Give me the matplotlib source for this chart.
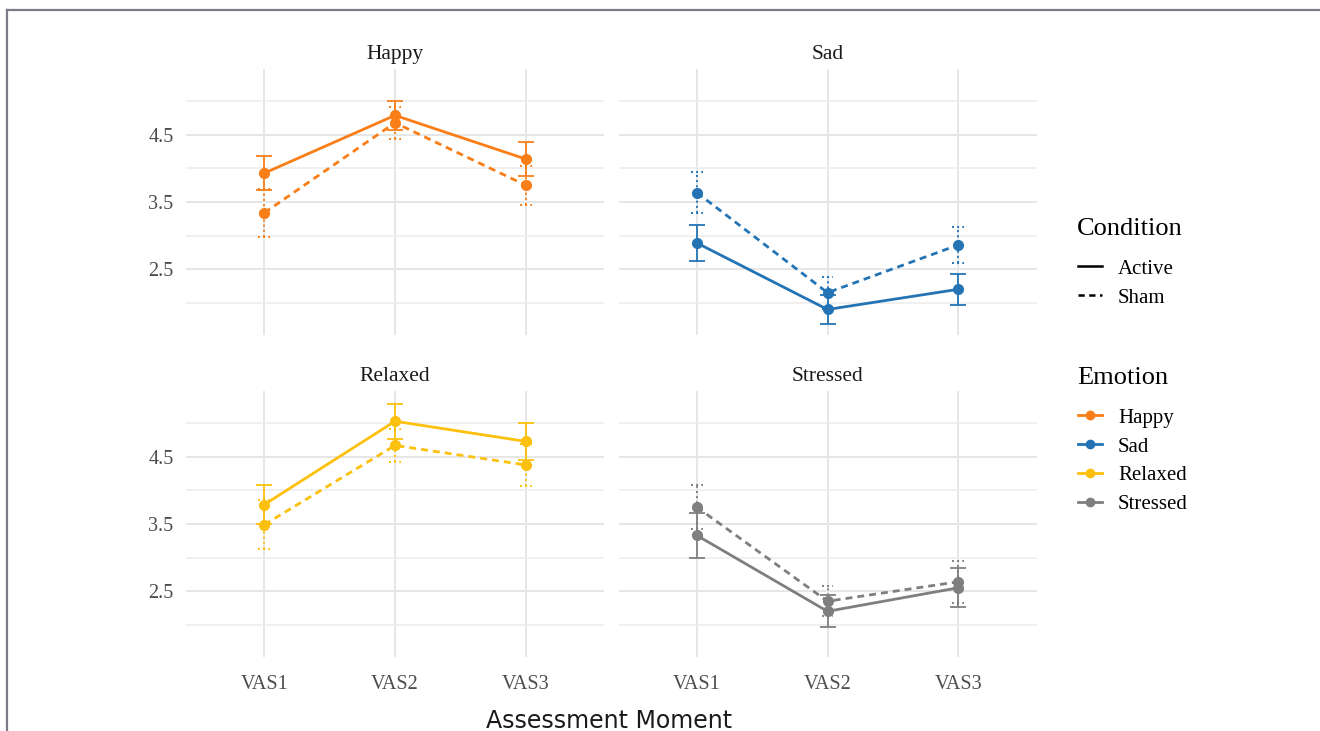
import matplotlib
matplotlib.use('Agg')
from matplotlib import pyplot as plt
from matplotlib.lines import Line2D
import numpy as np

plt.rcParams['font.family'] = ['Liberation Serif', 'DejaVu Serif']

moments = ['VAS1', 'VAS2', 'VAS3']
emotions = ['Happy', 'Sad', 'Relaxed', 'Stressed']
colors = ['#F97E17', '#2474B5', '#FCC00D', '#7F7F7F']

# means and error
happy_active = [3.93, 4.79, 4.14]
happy_active_err = [0.25, 0.22, 0.25]
happy_sham = [3.34, 4.68, 3.75]
happy_sham_err = [0.36, 0.24, 0.29]

sad_active = [2.89, 1.90, 2.20]
sad_active_err = [0.27, 0.21, 0.23]
sad_sham = [3.64, 2.15, 2.86]
sad_sham_err = [0.31, 0.24, 0.27]

relaxed_active = [3.79, 5.03, 4.73]
relaxed_active_err = [0.29, 0.26, 0.28]
relaxed_sham = [3.49, 4.67, 4.38]
relaxed_sham_err = [0.36, 0.24, 0.31]

stressed_active = [3.33, 2.20, 2.55]
stressed_active_err = [0.33, 0.24, 0.29]
stressed_sham = [3.75, 2.35, 2.64]
stressed_sham_err = [0.33, 0.22, 0.31]

active = [happy_active, sad_active, relaxed_active, stressed_active]
active_err = [happy_active_err, sad_active_err, relaxed_active_err, stressed_active_err]
sham = [happy_sham, sad_sham, relaxed_sham, stressed_sham]
sham_err = [happy_sham_err, sad_sham_err, relaxed_sham_err, stressed_sham_err]

fig = plt.figure(figsize=(13.2, 7.31), dpi=100)

# frame around the picture (top and left edges visible)
fig.add_artist(Line2D([7 / 1320, 1], [1 - 10 / 731, 1 - 10 / 731], color='#7a7a88', lw=1.6))
fig.add_artist(Line2D([7 / 1320, 7 / 1320], [0, 1 - 10 / 731], color='#7a7a88', lw=1.6))

lefts = [186 / 1320, 618.5 / 1320]
bottoms = [1 - 335 / 731, 1 - 657 / 731]
w = 418 / 1320
h = 266 / 731

x = np.arange(1, len(moments) + 1)
cap = 0.045

for i, emo in enumerate(emotions):
    r, c = divmod(i, 2)
    ax = fig.add_axes([lefts[c], bottoms[r], w, h])
    col = colors[i]

    # active: solid line, solid error bars
    ax.errorbar(x, active[i], yerr=active_err[i], fmt='-o', color=col, lw=2,
                ms=7, capsize=6, capthick=1.3, elinewidth=1.3, zorder=3)
    # sham: dashed line, dotted error bars
    ax.plot(x, sham[i], color=col, lw=2, ls=(0, (2.5, 1.8)), marker='o', ms=7, zorder=3)
    lo = np.array(sham[i]) - np.array(sham_err[i])
    hi = np.array(sham[i]) + np.array(sham_err[i])
    ax.vlines(x, lo, hi, colors=col, linestyles=':', lw=1.4, zorder=3)
    ax.hlines(np.concatenate([lo, hi]), np.tile(x, 2) - cap, np.tile(x, 2) + cap,
              colors=col, linestyles=':', lw=1.4, zorder=3)

    ax.set_xlim(0.4, 3.6)
    ax.set_ylim(1.52, 5.48)
    ax.set_xticks(x)
    ax.set_yticks([2.5, 3.5, 4.5])
    ax.set_yticks([2.0, 3.0, 4.0, 5.0], minor=True)
    ax.grid(True, which='major', color='#e6e6e6', lw=1.4)
    ax.grid(True, which='minor', axis='y', color='#ececec', lw=1.1)
    ax.set_axisbelow(True)
    for s in ax.spines.values():
        s.set_visible(False)
    ax.tick_params(axis='y', which='both', length=0, labelsize=14.5, colors='#4d4d4d', pad=9)
    ax.tick_params(axis='x', which='both', length=0, labelsize=14.5, colors='#4d4d4d', pad=13)
    if r == 0:
        ax.set_xticklabels([])
    else:
        ax.set_xticklabels(moments)
    if c == 1:
        ax.set_yticklabels([])
    ax.set_title(emo, fontsize=15.5, color='#1a1a1a', pad=7)

fig.text(609 / 1320, 1 - 721 / 731, 'Assessment Moment', family='DejaVu Sans',
         fontsize=17, ha='center', va='center', color='#1a1a1a')

# legends: titles as text, entries as legends
fig.text(1077 / 1320, 1 - 229 / 731, 'Condition', fontsize=19, ha='left', va='center')
fig.text(1077 / 1320, 1 - 378 / 731, 'Emotion', fontsize=19, ha='left', va='center')

cond_handles = [Line2D([], [], color='black', lw=1.8),
                Line2D([], [], color='black', lw=1.8, ls=(0, (2.5, 1.8)))]
fig.legend(cond_handles, ['Active', 'Sham'], loc='upper left',
           bbox_to_anchor=(1078 / 1320, 1 - 259 / 731), frameon=False,
           fontsize=15, handlelength=1.15, handletextpad=0.77,
           labelspacing=0.45, borderpad=0, borderaxespad=0)

emo_handles = [Line2D([], [], color=col, lw=2, marker='o', ms=6) for col in colors]
fig.legend(emo_handles, emotions, loc='upper left',
           bbox_to_anchor=(1078 / 1320, 1 - 408 / 731), frameon=False,
           fontsize=15, handlelength=1.15, handletextpad=0.77,
           labelspacing=0.45, borderpad=0, borderaxespad=0)

fig.savefig('out.png', dpi=100)
